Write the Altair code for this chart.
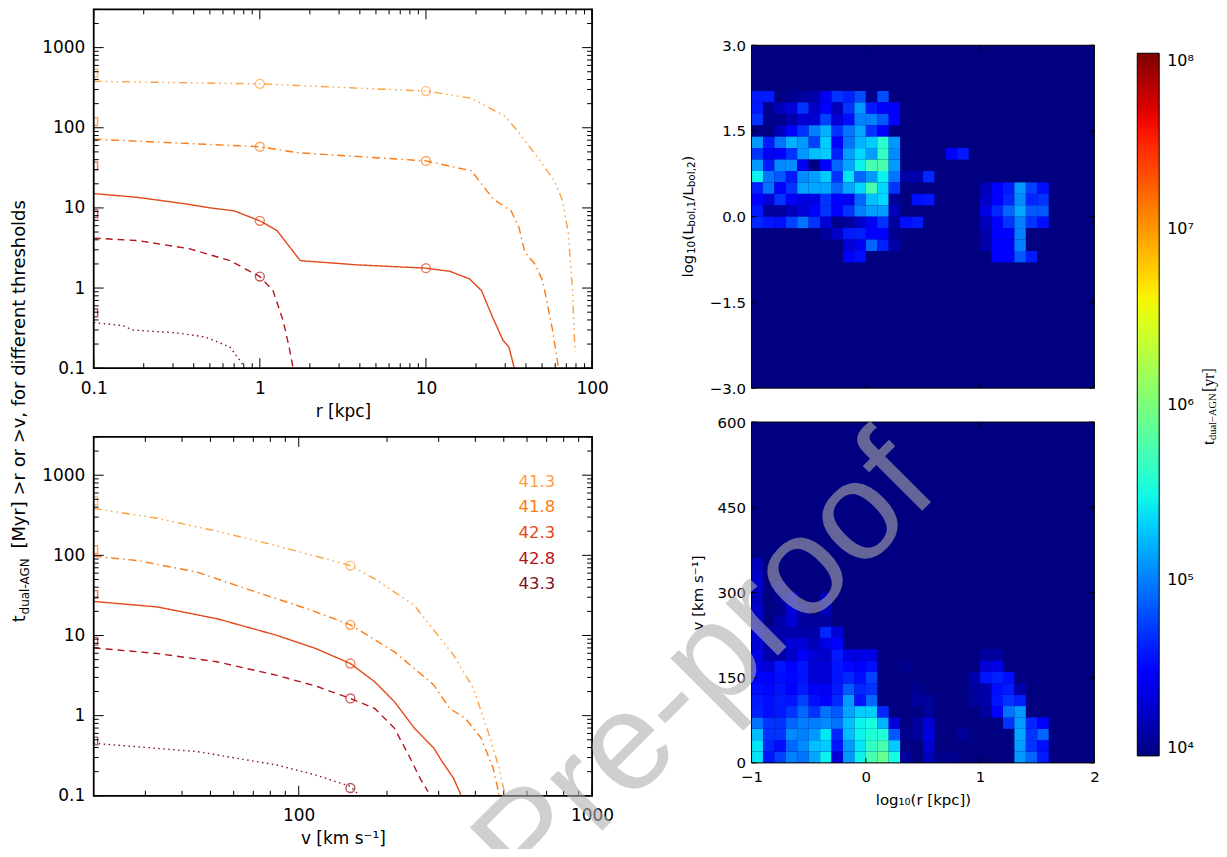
import altair as alt
import pandas as pd

FONT = "DejaVu Sans"

# ---------------- thresholds / styles ----------------
thresholds = ["41.3", "41.8", "42.3", "42.8", "43.3"]
line_colors = ["#FFA040", "#FF7A12", "#E4481A", "#B3161A", "#82121E"]
dash_styles = [[8, 4, 1.5, 4, 1.5, 4, 1.5, 4], [8, 4, 1.5, 4], [1, 0], [7, 5], [1.5, 3.5]]

# ---------------- t(>r) [Myr] vs r [kpc] ----------------
r_413 = [0.1, 1, 10, 18.8, 29.9, 36.3, 47.8, 59.4, 66.4, 72, 76, 79]
t_r_413 = [380, 353, 287, 233, 140, 87, 40.6, 21.8, 12.3, 4.75, 1.03, 0.16]
r_418 = [0.1, 1, 1.67, 10, 18.8, 25.4, 32.5, 36.3, 39.4, 45.2, 50.4, 57.8, 62.8]
t_r_418 = [72, 58, 49, 38.6, 29, 12.9, 9.2, 5.7, 2.8, 2.0, 1.24, 0.30, 0.10]
r_423 = [0.1, 0.186, 0.36, 0.49, 0.70, 1, 1.27, 1.75, 3.82, 10, 13.9, 18.3, 21.6, 25.4, 29.1, 31.6, 34]
t_r_423 = [15.1, 13.5, 11.2, 10.1, 9.2, 6.9, 5.2, 2.2, 1.95, 1.77, 1.62, 1.30, 0.93, 0.415, 0.223, 0.184, 0.10]
r_428 = [0.1, 0.186, 0.38, 0.66, 1, 1.2, 1.38, 1.5, 1.58]
t_r_428 = [4.2, 3.9, 3.08, 2.2, 1.39, 0.93, 0.395, 0.184, 0.105]
r_433 = [0.1, 0.15, 0.17, 0.32, 0.47, 0.66, 0.78, 0.80]
t_r_433 = [0.37, 0.34, 0.30, 0.275, 0.245, 0.184, 0.115, 0.10]
r_circle_x = [1, 10, 1, 10, 1, 10, 1]
r_circle_t = [353, 287, 58, 38.6, 6.9, 1.77, 1.39]
r_circle_s = ["41.3", "41.3", "41.8", "41.8", "42.3", "42.3", "42.8"]
r_square_t = [480, 119, 33.5, 8.5, 0.49]

# ---------------- t(>v) [Myr] vs v [km/s] ----------------
v_413 = [20, 33, 52.6, 78.7, 114, 150, 181.5, 247.6, 337, 394, 446, 482, 505]
t_v_413 = [386, 290, 200, 140, 98, 74.6, 51, 23.8, 5.7, 2.19, 0.574, 0.221, 0.103]
v_418 = [20, 28.3, 45, 71.7, 107, 150, 212, 289, 327, 370, 419, 460, 482]
t_v_418 = [97.7, 86, 61.8, 34.8, 21.5, 13.6, 6.25, 2.4, 1.23, 0.925, 0.522, 0.221, 0.103]
v_423 = [20, 33, 52.6, 83.8, 114, 150, 181.5, 212, 248, 289, 308, 337, 357]
t_v_423 = [26.6, 22.7, 16.2, 10.1, 6.9, 4.47, 2.65, 1.49, 0.695, 0.392, 0.268, 0.166, 0.103]
v_428 = [20, 33, 52.6, 83.8, 114, 150, 181.5, 212, 240, 259, 276]
t_v_428 = [7.0, 5.96, 4.7, 3.2, 2.35, 1.64, 1.23, 0.695, 0.294, 0.166, 0.113]
v_433 = [20, 45, 83.8, 114, 150, 158]
t_v_433 = [0.452, 0.356, 0.243, 0.182, 0.131, 0.108]
v_circle_x = [150, 150, 150, 150, 150]
v_circle_t = [74.6, 13.6, 4.47, 1.64, 0.125]
v_circle_s = thresholds
v_square_t = [478, 118, 32.5, 8.47, 0.483]

# ---------------- heat maps: log10(t_dual / yr) per 0.1 x bin ----------------
lum_rows = [2.0, 1.8, 1.6, 1.4, 1.2, 1.0, 0.8, 0.6, 0.4, 0.2, 0.0, -0.2, -0.4, -0.6, -0.8]
N = None
lum_logt = [
    [4.6, 4.6, N, 4.05, 4.1, 4.15, 4.4, 4.7, 4.62, 4.8, 4.05, 4.8],
    [4.6, 4.05, 4.2, 4.3, 4.7, 4.25, 4.5, 4.2, 4.7, 5.1, 4.6, 4.5, 4.45],
    [4.7, 4.05, 4.05, 4.15, 4.3, 4.3, 4.75, 4.3, 4.55, 5.0, 5.0, 4.85, 4.45],
    [4.02, 4.02, 4.2, 4.5, 4.7, 5.0, 5.2, 4.7, 4.95, 5.15, 4.7, 4.5],
    [5.1, 4.6, 4.95, 5.2, 5.1, 4.75, 5.3, 4.45, 4.95, 5.2, 5.3, 5.6, 5.1],
    [4.7, 4.4, 4.45, 4.7, 5.1, 5.25, 5.3, 4.62, 5.12, 5.35, 5.12, 5.65, 5.05, N, N, N, N, 4.45, 4.6],
    [5.1, 4.6, 5.05, 5.05, 4.4, 4.0, 4.5, 4.9, 5.15, 5.45, 5.75, 5.75, 5.1],
    [5.45, 4.95, 4.85, 4.6, 5.05, 5.12, 5.3, 4.7, 5.4, 4.9, 5.1, 5.45, 4.95, 4.15, 4.15, 4.65],
    [4.62, 4.95, 4.5, 4.7, 5.15, 5.15, 5.15, 4.9, 5.15, 5.35, 5.75, 5.35, 4.7, N, N, N, N, N, N, N, 4.2, 4.45, 4.6, 5.1, 4.75, 4.55],
    [4.5, 4.3, 4.7, 4.4, 4.35, 4.35, 4.7, 4.5, 4.4, 4.9, 5.25, 5.35, 4.1, N, 4.55, 4.58, N, N, N, N, 4.25, 4.5, 4.65, 5.05, 4.65, 4.7],
    [4.6, 4.1, 4.1, 4.2, 4.3, 4.5, 4.7, 4.5, 4.7, 5.0, 5.12, 5.12, 4.2, N, N, N, N, N, N, N, 4.35, 4.65, 4.9, 5.15, 4.85, 4.85],
    [4.65, 4.58, 4.55, 4.75, 4.95, 4.7, 4.3, 4.05, 4.1, 4.25, 4.4, 4.7, 4.1, 4.55, 4.6, N, N, N, N, N, 4.2, 4.5, 4.7, 5.0, 4.7, 4.55],
    [N, N, N, N, N, N, 4.1, 4.25, 4.6, 4.62, 4.5, 4.5, 4.05, N, N, N, N, N, N, N, 4.15, 4.5, 4.5, 5.0],
    [N, N, N, N, N, N, N, N, 4.3, 4.4, 4.9, 4.62, 4.15, N, N, N, N, N, N, N, 4.15, 4.45, 4.45, 5.0],
    [N, N, N, N, N, N, N, N, 4.5, 4.55, N, N, N, N, N, N, N, N, N, N, N, 4.45, 4.45, 4.85, 4.6],
]
vel_rows = [0, 20, 40, 60, 80, 100, 120, 140, 160, 180, 200, 220, 240, 260, 280, 300, 320, 340]
vel_logt = [
    [5.4, 4.58, 4.75, 5.0, 4.95, 5.15, 5.45, 4.3, 5.1, 5.45, 5.75, 5.9, 5.5, 4.1, N, 4.2, 4.05, 4.05, N, N, N, N, N, 5.1, 4.9, 4.6],
    [5.4, 4.65, 4.55, 4.9, 5.05, 5.25, 5.3, 4.58, 5.1, 5.4, 5.65, 5.75, 5.3, N, N, 4.3, N, N, N, N, N, N, N, 5.12, 4.7, 4.55],
    [5.25, 4.7, 4.7, 5.05, 5.0, 5.1, 5.4, 4.65, 5.25, 5.45, 5.55, 5.55, 4.85, 4.05, 4.1, 4.35, N, N, 4.1, N, N, N, N, 5.15, 4.7, 4.9],
    [4.95, 4.7, 4.7, 4.9, 5.0, 5.0, 5.05, 4.95, 5.25, 5.45, 5.5, 5.2, 4.3, N, 4.1, 4.3, N, N, N, N, N, N, 4.7, 5.12, 4.65, 4.45],
    [4.62, 4.55, 4.6, 4.7, 4.9, 4.7, 4.95, 4.85, 5.15, 5.3, 5.3, 4.65, N, N, N, 4.1, N, N, N, N, 4.1, 4.5, 4.95, 5.1],
    [4.6, 4.55, 4.6, 4.58, 4.75, 4.55, 4.45, 4.65, 5.1, 4.58, 4.9, N, N, N, 4.1, 4.1, N, N, N, 4.1, 4.15, 4.58, 4.7, 4.62],
    [4.55, 4.52, 4.58, 4.45, 4.6, 4.5, 4.4, 4.6, 4.85, 4.65, 4.7, N, N, N, 4.05, N, N, N, N, 4.1, 4.15, 4.55, 4.6, 4.15],
    [4.45, 4.5, 4.55, 4.52, 4.58, 4.3, 4.3, 4.58, 4.65, 4.55, 4.75, N, N, N, N, N, N, N, N, 4.15, 4.58, 4.62, 4.55],
    [4.35, 4.3, 4.58, 4.5, 4.58, 4.3, 4.3, 4.58, 4.52, 4.5, 4.55, N, N, 4.05, N, N, N, N, N, N, 4.3, 4.35],
    [4.35, 4.15, 4.15, 4.25, 4.5, 4.3, 4.25, 4.6, 4.35, 4.35, 4.35, N, N, N, N, N, N, N, N, N, 4.1, 4.1],
    [4.3, 4.15, 4.15, 4.3, 4.3, 4.2, 4.35, 4.45],
    [4.3, 4.15, 4.15, 4.15, 4.15, 4.15, 4.65, 4.3],
    [4.25, N, 4.15, 4.3, 4.1, 4.1, 4.1],
    [4.25, N, 4.05, 4.3, 4.15, N, 4.2],
    [4.2, N, 4.1, 4.3, N, N, 4.2],
    [4.25, N, 4.15],
    [4.25],
    [4.2],
]

# jet colour map on log10(t) from 4 to 8
jet_t = [0, 0.11, 0.125, 0.34, 0.35, 0.375, 0.64, 0.65, 0.66, 0.89, 0.91, 1]
jet_colors = ["#000080", "#0000FF", "#0000FF", "#00DBFF", "#00E6F7", "#15FFE2",
              "#EEFF08", "#F7F500", "#FFEC00", "#FF1300", "#E80000", "#800000"]
jet_domain = [10 ** (4 + 4 * t) for t in jet_t]
cbar_ticks = [1e4, 1e5, 1e6, 1e7, 1e8]

# tick positions (axis decoration)
dec_minor = [m * d for d in (0.1, 1, 10, 100) for m in range(2, 10)]
y_major = [0.1, 1, 10, 100, 1000]
y_minor = dec_minor + [2000, 3000]
r_major = [0.1, 1, 10, 100]
r_minor = [v for v in dec_minor if v < 100]
v_major = [100, 1000]
v_minor = [v for v in dec_minor if 20 < v < 1000]

# ---------------- panel boxes (pixels inside the single view) ----------------
TL_BOX = (0, 500, 0, 360)       # x0, x1, y0, y1
BL_BOX = (0, 500, 429, 789)
TR_BOX = (660, 1004, 36, 380)
BR_BOX = (660, 1004, 414, 756)
VIEW_W, VIEW_H = 1004, 789


def one(txt):
    return pd.DataFrame({"s": [txt]})


def text_piece(txt, x, y, size, dx=0, dy=0, font=FONT, angle=270, color="black"):
    return alt.Chart(one(txt)).mark_text(
        angle=angle, align="left", baseline="middle", font=font, fontSize=size,
        dx=dx, dy=dy, color=color
    ).encode(x=alt.value(x), y=alt.value(y), text="s:N")


def box_rect(box, **kw):
    x0, x1, y0, y1 = box
    return alt.Chart(one("b")).mark_rect(**kw).encode(
        x=alt.value(x0), x2=alt.value(x1), y=alt.value(y0), y2=alt.value(y1))


def tick_layers(xs, ys, xmaj, xmin, ymaj, ymin, box, lmaj, lmin, color="black"):
    x0, x1, y0, y1 = box
    out = []
    for vals, L in ((xmaj, lmaj), (xmin, lmin)):
        if not vals:
            continue
        base = alt.Chart(pd.DataFrame({"v": vals})).mark_rule(color=color, strokeWidth=1)
        out.append(base.encode(x=alt.X("v:Q", scale=xs, axis=None), y=alt.value(y1), y2=alt.value(y1 - L)))
        out.append(base.encode(x=alt.X("v:Q", scale=xs, axis=None), y=alt.value(y0), y2=alt.value(y0 + L)))
    for vals, L in ((ymaj, lmaj), (ymin, lmin)):
        if not vals:
            continue
        base = alt.Chart(pd.DataFrame({"v": vals})).mark_rule(color=color, strokeWidth=1)
        out.append(base.encode(y=alt.Y("v:Q", scale=ys, axis=None), x=alt.value(x0), x2=alt.value(x0 + L)))
        out.append(base.encode(y=alt.Y("v:Q", scale=ys, axis=None), x=alt.value(x1), x2=alt.value(x1 - L)))
    return out


def line_panel(curves, circ_x, circ_t, circ_s, sq_t, x_dom, xmaj, xmin, x_title, box):
    x0, x1, y0, y1 = box
    xs = alt.Scale(type="log", domain=x_dom, range=[x0, x1], nice=False)
    ys = alt.Scale(type="log", domain=[0.1, 3000], range=[y1, y0], nice=False)
    rows = []
    for s, (xv, tv) in zip(thresholds, curves):
        for i, (a, b) in enumerate(zip(xv, tv)):
            rows.append({"series": s, "i": i, "x": a, "t": b})
    df = pd.DataFrame(rows)
    stroke = alt.Stroke("series:N", scale=alt.Scale(domain=thresholds, range=line_colors), legend=None)
    dash = alt.StrokeDash("series:N", scale=alt.Scale(domain=thresholds, range=dash_styles), legend=None)
    lines = alt.Chart(df).mark_line(clip=True, strokeWidth=1.4).encode(
        x=alt.X("x:Q", scale=xs, axis=alt.Axis(
            orient="bottom", offset=y1 - VIEW_H,
            values=xmaj, format="~g", title=x_title, ticks=False, tickSize=0, domain=False, grid=False,
            labelFont=FONT, labelFontSize=17, labelPadding=12, labelColor="black", labelFlush=False,
            labelOverlap=False, titleFont=FONT, titleFontSize=17, titleFontWeight="normal",
            titlePadding=7, titleColor="black")),
        y=alt.Y("t:Q", scale=ys, axis=alt.Axis(
            orient="left", offset=-x0,
            values=y_major, format="~g", title=None, ticks=False, tickSize=0, domain=False, grid=False,
            labelFont=FONT, labelFontSize=17, labelPadding=9, labelColor="black", labelOverlap=False)),
        stroke=stroke, strokeDash=dash, order="i:Q")
    cdf = pd.DataFrame({"series": circ_s, "x": circ_x, "t": circ_t})
    circles = alt.Chart(cdf).mark_point(shape="circle", filled=False, size=80, strokeWidth=1.4, clip=True).encode(
        x=alt.X("x:Q", scale=xs, axis=None), y=alt.Y("t:Q", scale=ys, axis=None), stroke=stroke)
    sdf = pd.DataFrame({"series": thresholds, "x": [x_dom[0]] * 5, "t": sq_t})
    squares = alt.Chart(sdf).mark_point(shape="square", filled=False, size=60, strokeWidth=1.4, clip=True).encode(
        x=alt.X("x:Q", scale=xs, axis=None), y=alt.Y("t:Q", scale=ys, axis=None), stroke=stroke)
    ticks = tick_layers(xs, ys, xmaj, xmin, y_major, y_minor, box, 10, 5)
    frame = box_rect(box, fillOpacity=0, stroke="black", strokeWidth=1.8)
    return [lines, circles, squares] + ticks + [frame]


# ---- top-left panel ----
tl_layers = line_panel([(r_413, t_r_413), (r_418, t_r_418), (r_423, t_r_423), (r_428, t_r_428), (r_433, t_r_433)],
                       r_circle_x, r_circle_t, r_circle_s, r_square_t, [0.1, 100], r_major, r_minor,
                       "r  [kpc]", TL_BOX)

# ---- bottom-left panel ----
bl_layers = line_panel([(v_413, t_v_413), (v_418, t_v_418), (v_423, t_v_423), (v_428, t_v_428), (v_433, t_v_433)],
                       v_circle_x, v_circle_t, v_circle_s, v_square_t, [20, 1000], v_major, v_minor,
                       "v  [km  s\u207b\u00b9]", BL_BOX)
lab = alt.Chart(pd.DataFrame({"label": thresholds})).mark_text(
    align="right", baseline="middle", font=FONT, fontSize=16.5).encode(
    x=alt.value(463),
    y=alt.Y("label:N", scale=alt.Scale(type="point", domain=thresholds,
                                       range=[BL_BOX[2] + 45, BL_BOX[2] + 148], padding=0), axis=None),
    color=alt.Color("label:N", scale=alt.Scale(domain=thresholds, range=line_colors), legend=None),
    text="label:N")

# shared y-axis title of the two left panels
ytitle_x, ytitle_y = -74, 615
ytitle = [
    text_piece("t", ytitle_x, ytitle_y, 18),
    text_piece("dual-AGN", ytitle_x, ytitle_y, 12, dx=8, dy=5),
    text_piece("[Myr]   >r  or  >v,   for  different   thresholds", ytitle_x, ytitle_y, 18, dx=74),
]

# ---------------- heat maps ----------------
fill_scale = alt.Scale(type="log", domain=jet_domain, range=jet_colors, interpolate="rgb", nice=False)
cbar_legend = alt.Legend(
    orient="none", legendX=1047, legendY=44, direction="vertical", title=None,
    gradientLength=705, gradientThickness=22, gradientStrokeColor="black", gradientStrokeWidth=1,
    values=cbar_ticks, labelFont=FONT, labelFontSize=16, labelColor="black", labelOffset=8,
    labelBaseline="middle", labelOverlap=False,
    labelExpr="'10' + ['\u2070','\u00b9','\u00b2','\u00b3','\u2074','\u2075','\u2076','\u2077','\u2078'][round(log(datum.value)/LN10)]")


def cells(rows, logt, dx, dy):
    out = []
    for y0, vals in zip(rows, logt):
        for k, v in enumerate(vals):
            if v is None:
                continue
            x0 = round(-1 + dx * k, 3)
            out.append({"x0": x0, "x1": round(x0 + dx, 3), "y0": y0, "y1": round(y0 + dy, 3), "t": 10 ** v})
    return pd.DataFrame(out)


minus_expr = "replace(datum.label, '-', '\u2212')"
NAVY = "#000080"

# top heat map: luminosity ratio
hx1 = alt.Scale(domain=[-1, 2], range=[TR_BOX[0], TR_BOX[1]], nice=False, zero=False)
hy1 = alt.Scale(domain=[-3, 3], range=[TR_BOX[3], TR_BOX[2]], nice=False, zero=False)
tr_rect = alt.Chart(cells(lum_rows, lum_logt, 0.1, 0.2)).mark_rect().encode(
    x=alt.X("x0:Q", scale=hx1, axis=None), x2="x1:Q",
    y=alt.Y("y0:Q", scale=hy1, axis=alt.Axis(
        orient="left", offset=-TR_BOX[0],
        values=[-3, -1.5, 0, 1.5, 3], format=".1f", labelExpr=minus_expr, title=None, ticks=False,
        tickSize=0, domain=False, grid=False, labelFont=FONT, labelFontSize=15, labelPadding=6,
        labelColor="black", labelOverlap=False)),
    y2="y1:Q",
    fill=alt.Fill("t:Q", scale=fill_scale, legend=cbar_legend))
tr_ticks = tick_layers(hx1, hy1, [-1, 0, 1, 2], [], [-3, -1.5, 0, 1.5, 3], [], TR_BOX, 5, 3)
tt_x, tt_y = TR_BOX[0] - 64, TR_BOX[2] + 233
tr_title = [
    text_piece("log", tt_x, tt_y, 15),
    text_piece("10", tt_x, tt_y, 10.5, dx=23.5, dy=4),
    text_piece("(L", tt_x, tt_y, 15, dx=37),
    text_piece("bol,1", tt_x, tt_y, 10.5, dx=51, dy=4),
    text_piece("/L", tt_x, tt_y, 15, dx=77),
    text_piece("bol,2", tt_x, tt_y, 10.5, dx=90.5, dy=4),
    text_piece(")", tt_x, tt_y, 15, dx=116.5),
]
tr_layers = [box_rect(TR_BOX, fill=NAVY), tr_rect] + tr_ticks + \
    [box_rect(TR_BOX, fillOpacity=0, stroke="black", strokeWidth=1)] + tr_title

# bottom heat map: velocity
hx2 = alt.Scale(domain=[-1, 2], range=[BR_BOX[0], BR_BOX[1]], nice=False, zero=False)
hy2 = alt.Scale(domain=[0, 600], range=[BR_BOX[3], BR_BOX[2]], nice=False, zero=False)
br_rect = alt.Chart(cells(vel_rows, vel_logt, 0.1, 20)).mark_rect().encode(
    x=alt.X("x0:Q", scale=hx2, axis=alt.Axis(
        orient="bottom", offset=BR_BOX[3] - VIEW_H,
        values=[-1, 0, 1, 2], format="d", labelExpr=minus_expr, title="log\u2081\u2080(r [kpc])",
        ticks=False, tickSize=0, domain=False, grid=False, labelFont=FONT, labelFontSize=15,
        labelPadding=7, labelColor="black", labelFlush=False, labelOverlap=False,
        titleFont=FONT, titleFontSize=15, titleFontWeight="normal", titlePadding=8, titleColor="black")),
    x2="x1:Q",
    y=alt.Y("y0:Q", scale=hy2, axis=alt.Axis(
        orient="left", offset=-BR_BOX[0],
        values=[0, 150, 300, 450, 600], format="d", title="v [km s\u207b\u00b9]", ticks=False, tickSize=0,
        domain=False, grid=False, labelFont=FONT, labelFontSize=15, labelPadding=6, labelColor="black",
        labelOverlap=False, titleFont=FONT, titleFontSize=15, titleFontWeight="normal",
        titlePadding=12, titleColor="black")),
    y2="y1:Q",
    fill=alt.Fill("t:Q", scale=fill_scale, legend=cbar_legend))
br_ticks = tick_layers(hx2, hy2, [-1, 0, 1, 2], [], [0, 150, 300, 450, 600], [], BR_BOX, 5, 3)
ct_x, ct_y = BR_BOX[0] + 459, BR_BOX[2] + 23
cbar_title = [
    text_piece("t", ct_x, ct_y, 16, font="Liberation Serif"),
    text_piece("dual\u2212AGN", ct_x, ct_y, 10.5, dx=5, dy=4, font="Liberation Serif"),
    text_piece("[yr]", ct_x, ct_y, 16, dx=53, font="Liberation Serif"),
]
br_layers = [box_rect(BR_BOX, fill=NAVY), br_rect] + br_ticks + \
    [box_rect(BR_BOX, fillOpacity=0, stroke="black", strokeWidth=1)] + cbar_title

watermark = alt.Chart(one("Pre-proof")).mark_text(
    angle=315, align="center", baseline="middle", font="Liberation Sans", fontSize=140,
    color="#AEAEAE", opacity=0.58).encode(x=alt.value(614), y=alt.value(661), text="s:N")

chart = alt.layer(
    *tl_layers, *bl_layers, lab, *ytitle, *tr_layers, *br_layers, watermark
).resolve_scale(x="independent", y="independent").properties(
    width=VIEW_W, height=VIEW_H,
    autosize=alt.AutoSizeParams(type="none"),
    padding={"left": 86, "top": 0, "right": 125, "bottom": 52},
    background="white",
    view=alt.ViewBackground(stroke="transparent", fill="transparent"),
)

chart.save("out.html", embed_options={"renderer": "svg", "actions": False})
